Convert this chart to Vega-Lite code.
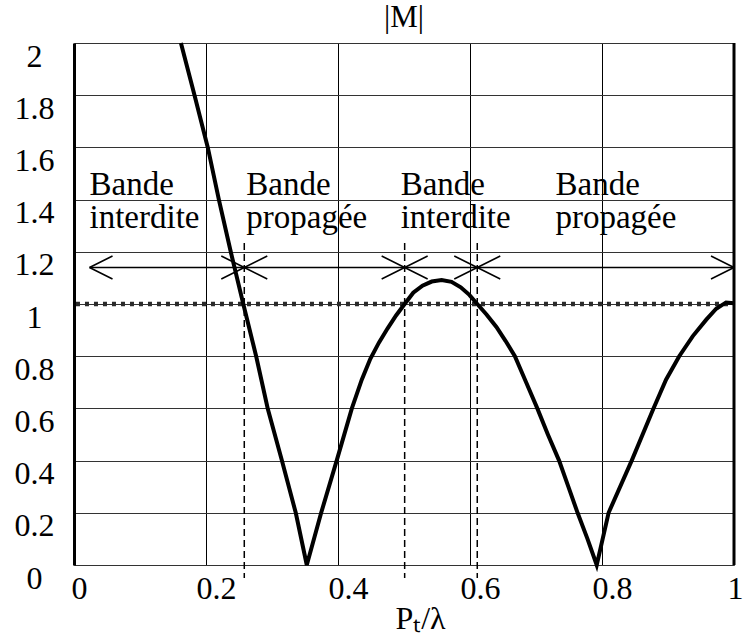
{
  "$schema": "https://vega.github.io/schema/vega-lite/v6.json",
  "width": 660,
  "height": 522,
  "autosize": "none",
  "padding": {"left": 74, "top": 43, "right": 10, "bottom": 74},
  "config": {"view": {"stroke": null}, "font": "Liberation Serif"},
  "title": {"text": "|M|", "fontSize": 31, "font": "Liberation Serif", "fontWeight": "normal", "color": "#000", "anchor": "middle", "offset": 1},
  "datasets": {
    "curve": [
      {"x": 0.162, "y": 2.0}, {"x": 0.1826, "y": 1.8}, {"x": 0.2027, "y": 1.6}, {"x": 0.2195, "y": 1.4},
      {"x": 0.2375, "y": 1.2}, {"x": 0.2565, "y": 1.0}, {"x": 0.276, "y": 0.8},
      {"x": 0.2935, "y": 0.6}, {"x": 0.315, "y": 0.4}, {"x": 0.336, "y": 0.2}, {"x": 0.3527, "y": 0.0},
      {"x": 0.3745, "y": 0.2}, {"x": 0.398, "y": 0.4}, {"x": 0.421, "y": 0.6}, {"x": 0.436, "y": 0.71},
      {"x": 0.449, "y": 0.79}, {"x": 0.462, "y": 0.852}, {"x": 0.475, "y": 0.906}, {"x": 0.488, "y": 0.956},
      {"x": 0.501, "y": 1.0}, {"x": 0.514, "y": 1.043}, {"x": 0.528, "y": 1.07}, {"x": 0.542, "y": 1.086},
      {"x": 0.557, "y": 1.092}, {"x": 0.572, "y": 1.085}, {"x": 0.586, "y": 1.064}, {"x": 0.599, "y": 1.035},
      {"x": 0.611, "y": 1.0}, {"x": 0.625, "y": 0.96}, {"x": 0.64, "y": 0.912}, {"x": 0.654, "y": 0.858},
      {"x": 0.668, "y": 0.8}, {"x": 0.685, "y": 0.7}, {"x": 0.702, "y": 0.6}, {"x": 0.718, "y": 0.5},
      {"x": 0.735, "y": 0.4}, {"x": 0.749, "y": 0.3}, {"x": 0.763, "y": 0.2}, {"x": 0.778, "y": 0.1},
      {"x": 0.792, "y": 0.0},
      {"x": 0.81, "y": 0.2}, {"x": 0.845, "y": 0.4}, {"x": 0.878, "y": 0.6}, {"x": 0.897, "y": 0.71},
      {"x": 0.917, "y": 0.8}, {"x": 0.9376, "y": 0.877}, {"x": 0.958, "y": 0.94}, {"x": 0.973, "y": 0.982},
      {"x": 0.988, "y": 1.006}, {"x": 1.0, "y": 1.003}
    ],
    "unity": [{"x": 0.003, "x2": 1.0, "y": 1.0}],
    "edges": [
      {"x": 0.258, "y": 1.234, "y2": -0.05},
      {"x": 0.501, "y": 1.234, "y2": -0.05},
      {"x": 0.611, "y": 1.234, "y2": -0.05}
    ],
    "arrowline": [{"x": 0.0235, "x2": 1.0, "y": 1.14}],
    "headsLeft": [{"x": 0.0235, "y": 1.14}, {"x": 0.258, "y": 1.14}, {"x": 0.501, "y": 1.14}, {"x": 0.611, "y": 1.14}],
    "headsRight": [{"x": 0.258, "y": 1.14}, {"x": 0.501, "y": 1.14}, {"x": 0.611, "y": 1.14}, {"x": 1.0, "y": 1.14}],
    "border": [{"x": 1.0, "y": 0, "y2": 2}],
    "labels": [
      {"x": 0.0235, "y": 1.418, "label": "Bande"}, {"x": 0.0235, "y": 1.292, "label": "interdite"},
      {"x": 0.261, "y": 1.418, "label": "Bande"}, {"x": 0.261, "y": 1.292, "label": "propagée"},
      {"x": 0.495, "y": 1.418, "label": "Bande"}, {"x": 0.495, "y": 1.292, "label": "interdite"},
      {"x": 0.7295, "y": 1.418, "label": "Bande"}, {"x": 0.7295, "y": 1.292, "label": "propagée"}
    ]
  },
  "encoding": {
    "x": {
      "field": "x", "type": "quantitative",
      "scale": {"domain": [0, 1], "nice": false, "zero": false},
      "axis": {
        "title": "Pₜ/λ", "values": [0, 0.2, 0.4, 0.6, 0.8, 1], "format": "~g",
        "grid": true, "gridColor": "#000", "gridWidth": 1, "gridOpacity": 1,
        "domain": false, "ticks": false, "tickSize": 0,
        "labelPadding": 8, "labelFontSize": 32, "labelFont": "Liberation Serif", "labelColor": "#000",
        "labelFlush": false, "labelOverlap": false,
        "labelOffset": {"condition": [{"test": "datum.value == 0", "value": 5}, {"test": "datum.value == 1", "value": 1}], "value": 10},
        "titleFontSize": 32, "titleFont": "Liberation Serif", "titleFontWeight": "normal", "titleColor": "#000",
        "titleX": 346, "titleY": 63, "titleBaseline": "alphabetic", "titleAlign": "center", "titleAnchor": null
      }
    },
    "y": {
      "field": "y", "type": "quantitative",
      "scale": {"domain": [0, 2], "nice": false, "zero": false},
      "axis": {
        "title": null, "values": [0, 0.2, 0.4, 0.6, 0.8, 1, 1.2, 1.4, 1.6, 1.8, 2], "format": "~g",
        "grid": true, "gridColor": "#333", "gridWidth": 1, "gridOpacity": 1,
        "domain": true, "domainColor": "#000", "domainWidth": 3,
        "ticks": false, "tickSize": 0,
        "labelAlign": "center", "labelBaseline": "top", "labelPadding": 40, "labelOffset": -2,
        "labelFontSize": 32, "labelFont": "Liberation Serif", "labelColor": "#000",
        "labelFlush": false, "labelOverlap": false
      }
    }
  },
  "layer": [
    {"data": {"name": "unity"}, "mark": {"type": "rule", "color": "#2a2a2a", "strokeWidth": 4.5, "strokeDash": [4, 5], "strokeCap": "butt", "opacity": 1}, "encoding": {"x2": {"field": "x2"}}},
    {"data": {"name": "edges"}, "mark": {"type": "rule", "color": "#000", "strokeWidth": 1.5, "strokeDash": [7, 4]}, "encoding": {"y2": {"field": "y2"}}},
    {"data": {"name": "border"}, "mark": {"type": "rule", "color": "#000", "strokeWidth": 3}, "encoding": {"y2": {"field": "y2"}}},
    {"data": {"name": "arrowline"}, "mark": {"type": "rule", "color": "#000", "strokeWidth": 1.5}, "encoding": {"x2": {"field": "x2"}}},
    {"data": {"name": "headsLeft"}, "mark": {"type": "point", "shape": "M0,0L2,-1M0,0L2,1", "size": 529, "filled": false, "color": "#000", "strokeWidth": 1.5, "opacity": 1}},
    {"data": {"name": "headsRight"}, "mark": {"type": "point", "shape": "M0,0L-2,-1M0,0L-2,1", "size": 529, "filled": false, "color": "#000", "strokeWidth": 1.5, "opacity": 1}},
    {"data": {"name": "curve"}, "mark": {"type": "line", "color": "#000", "strokeWidth": 4}},
    {"data": {"name": "labels"}, "mark": {"type": "text", "align": "left", "baseline": "alphabetic", "fontSize": 33, "font": "Liberation Serif", "color": "#000"}, "encoding": {"text": {"field": "label"}}}
  ]
}
